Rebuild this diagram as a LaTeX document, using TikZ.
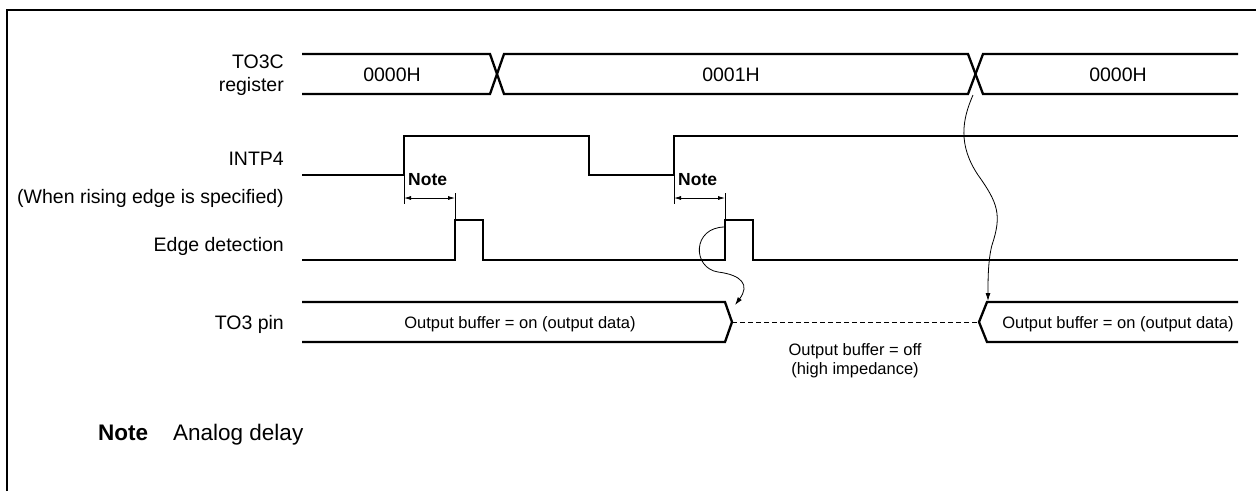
\documentclass[tikz,border=0pt]{standalone}
\usepackage{fontspec}
\setmainfont{Liberation Sans}
\usetikzlibrary{arrows.meta}

\begin{document}
\begin{tikzpicture}[
  x=1pt, y=-1pt,
  sig/.style={line width=2.3pt, line join=miter},
  fine/.style={line width=0.8pt},
  lbl/.style={font=\fontsize{19.5}{22.5}\selectfont, inner sep=0pt, align=right},
  val/.style={font=\fontsize{19.5}{22}\selectfont, inner sep=0pt},
  buf/.style={font=\fontsize{16.5}{19}\selectfont, inner sep=0pt, align=center},
  notelbl/.style={font=\bfseries\fontsize{17.5}{20}\selectfont, inner sep=0pt, anchor=base west},
  dly/.style={fine, {Latex[length=7pt,width=4pt]}-{Latex[length=7pt,width=4pt]}},
  causearrow/.style={fine, -{Latex[length=8pt,width=5pt]}},
]
\useasboundingbox (0,0) rectangle (1256,491);
% open frame
\draw[line width=2.8pt] (7,491) -- (7,10) -- (1256,10);
% signal names
\node[lbl, anchor=east] (regname) at (284,75) {TO3C\\register};
\node[lbl, anchor=base east] (intname) at (284,165) {INTP4};
\node[lbl, anchor=base east] (condname) at (284,203) {(When rising edge is specified)};
\node[lbl, anchor=base east] (edgename) at (284,251) {Edge detection};
\node[lbl, anchor=base east] (pinname) at (284,329) {TO3 pin};
% TO3C register bus
\draw[sig] (302,54) -- (490,54) -- (504,94) -- (968,94) -- (983,54) -- (1238,54);
\draw[sig] (302,94) -- (490,94) -- (504,54) -- (968,54) -- (983,94) -- (1238,94);
\foreach \x/\v/\n in {392/0000H/a, 731/0001H/b, 1118/0000H/c}
  \node[val] (reg\n) at (\x,75) {\v};
% INTP4
\draw[sig] (302,175) -- (404,175) -- (404,136) -- (589,136) -- (589,175)
  -- (674,175) -- (674,136) -- (1238,136);
% edge detection
\draw[sig] (302,260) -- (455,260) -- (455,220) -- (483,220) -- (483,260)
  -- (725,260) -- (725,220) -- (753,220) -- (753,260) -- (1238,260);
% analog delay markers
\foreach \a/\b/\n in {404/455/1, 674/725/2} {
  \draw[fine] (\a,175) -- (\a,204);
  \draw[fine] (\b,193) -- (\b,220);
  \coordinate (dl\n) at (\a,198);
  \coordinate (dr\n) at (\b,198);
  \draw[dly] (dl\n) -- (dr\n);
  \node[notelbl] (note\n) at (\a+4,185) {Note};
}
% TO3 pin
\draw[sig] (302,302) -- (725,302) -- (732,322) -- (725,342) -- (302,342);
\draw[sig] (1238,302) -- (987,302) -- (979,322) -- (987,342) -- (1238,342);
\coordinate (offl) at (732,322);
\coordinate (offr) at (979,322);
\draw[fine, dash pattern=on 5pt off 3pt] (offl) -- (offr);
\node[buf, anchor=base] (bufon1) at (520,328) {Output buffer = on (output data)};
\node[buf, anchor=base] (bufon2) at (1118,328) {Output buffer = on (output data)};
\node[buf, anchor=north] (bufoff) at (855,343) {Output buffer = off\\(high impedance)};
% causes
\coordinate (edgept) at (725,227);
\coordinate (offpt) at (735,305);
\draw[causearrow] (edgept) .. controls (692,227) and (692,268) .. (718,272)
  .. controls (742,275) and (750,285) .. (offpt);
\coordinate (crosspt) at (973,95);
\coordinate (onpt) at (988,301);
\draw[causearrow] (crosspt) .. controls (962,120) and (958,145) .. (978,175)
  .. controls (998,203) and (1002,215) .. (992,245)
  .. controls (988,260) and (988,280) .. (onpt);
% note
\node[font=\bfseries\fontsize{22.5}{25}\selectfont, inner sep=0pt, anchor=base west] (notekey) at (98,440) {Note};
\node[font=\fontsize{22.5}{25}\selectfont, inner sep=0pt, anchor=base west] (notetext) at (173,440) {Analog delay};
\end{tikzpicture}
\end{document}
